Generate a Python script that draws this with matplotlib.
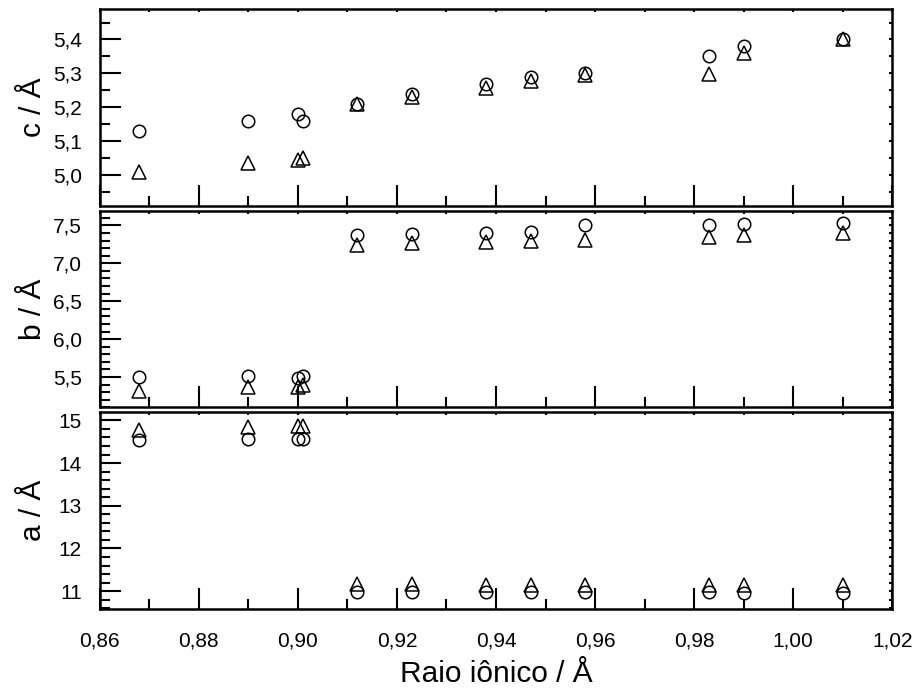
import matplotlib
matplotlib.use("Agg")
import matplotlib.pyplot as plt
from matplotlib.ticker import MultipleLocator, FuncFormatter

plt.rcParams["font.family"] = ["Liberation Sans", "DejaVu Sans"]

# raio iônico (Å)
raio = [0.868, 0.890, 0.900, 0.901, 0.912, 0.923, 0.938, 0.947, 0.958, 0.983, 0.990, 1.010]

# parâmetros de rede - círculos
c_circ = [5.13, 5.16, 5.18, 5.16, 5.21, 5.24, 5.27, 5.29, 5.30, 5.35, 5.38, 5.40]
b_circ = [5.50, 5.51, 5.49, 5.52, 7.38, 7.39, 7.40, 7.41, 7.50, 7.50, 7.52, 7.53]
a_circ = [14.53, 14.56, 14.56, 14.56, 10.97, 10.97, 10.97, 10.97, 10.97, 10.97, 10.96, 10.96]

# parâmetros de rede - triângulos
c_tri = [5.01, 5.035, 5.045, 5.05, 5.21, 5.23, 5.258, 5.279, 5.295, 5.297, 5.36, 5.40]
b_tri = [5.32, 5.37, 5.37, 5.39, 7.24, 7.27, 7.28, 7.30, 7.31, 7.35, 7.37, 7.40]
a_tri = [14.78, 14.84, 14.86, 14.86, 11.16, 11.16, 11.15, 11.15, 11.15, 11.15, 11.14, 11.14]


def virgula(fmt):
    return FuncFormatter(lambda v, pos: (fmt % v).replace(".", ","))


def estilo(ax, ymaj, ymin, yfmt):
    for s in ax.spines.values():
        s.set_linewidth(1.8)
    ax.xaxis.set_major_locator(MultipleLocator(0.02))
    ax.xaxis.set_minor_locator(MultipleLocator(0.01))
    ax.yaxis.set_major_locator(MultipleLocator(ymaj))
    ax.yaxis.set_minor_locator(MultipleLocator(ymin))
    ax.yaxis.set_major_formatter(virgula(yfmt))
    ax.xaxis.set_major_formatter(virgula("%.2f"))
    ax.tick_params(which="both", direction="in", top=True, right=True, width=1.5, labelsize=15)
    ax.tick_params(which="major", length=15)
    ax.tick_params(which="minor", length=7)
    ax.tick_params(axis="y", which="major", pad=13)
    ax.tick_params(axis="x", which="major", pad=16)
    # ticks curtos em cima e à direita
    for t in ax.xaxis.get_major_ticks() + ax.xaxis.get_minor_ticks():
        t.tick2line.set_markersize(2.5)
    for t in ax.yaxis.get_major_ticks() + ax.yaxis.get_minor_ticks():
        t.tick2line.set_markersize(2.5)
    ax.set_xlim(0.86, 1.02)


fig = plt.figure(figsize=(9.16, 6.89), dpi=100)
gs = fig.add_gridspec(3, 1, left=0.109, right=0.974, top=0.987, bottom=0.116, hspace=0.025)
ax_c = fig.add_subplot(gs[0])
ax_b = fig.add_subplot(gs[1], sharex=ax_c)
ax_a = fig.add_subplot(gs[2], sharex=ax_c)

painel = [
    (ax_c, c_circ, c_tri, "c / Å", (4.91, 5.49), 0.1, 0.05, "%.1f"),
    (ax_b, b_circ, b_tri, "b / Å", (5.10, 7.695), 0.5, 0.1, "%.1f"),
    (ax_a, a_circ, a_tri, "a / Å", (10.58, 15.19), 1, 0.2, "%d"),
]

for ax, yc, yt, lab, lim, maj, mnr, fmt in painel:
    ax.plot(raio, yc, "o", ms=9, mfc="none", mec="black", mew=1.1, ls="none")
    ax.plot(raio, yt, "^", ms=10.5, mfc="none", mec="black", mew=1.1, ls="none")
    ax.set_ylim(*lim)
    ax.set_ylabel(lab, fontsize=21.5, labelpad=4)
    estilo(ax, maj, mnr, fmt)

ax_c.tick_params(labelbottom=False)
ax_b.tick_params(labelbottom=False)
ax_a.set_xlabel("Raio iônico / Å", fontsize=21.5, labelpad=7)

fig.align_ylabels([ax_c, ax_b, ax_a])
fig.savefig("out.png", dpi=100)
